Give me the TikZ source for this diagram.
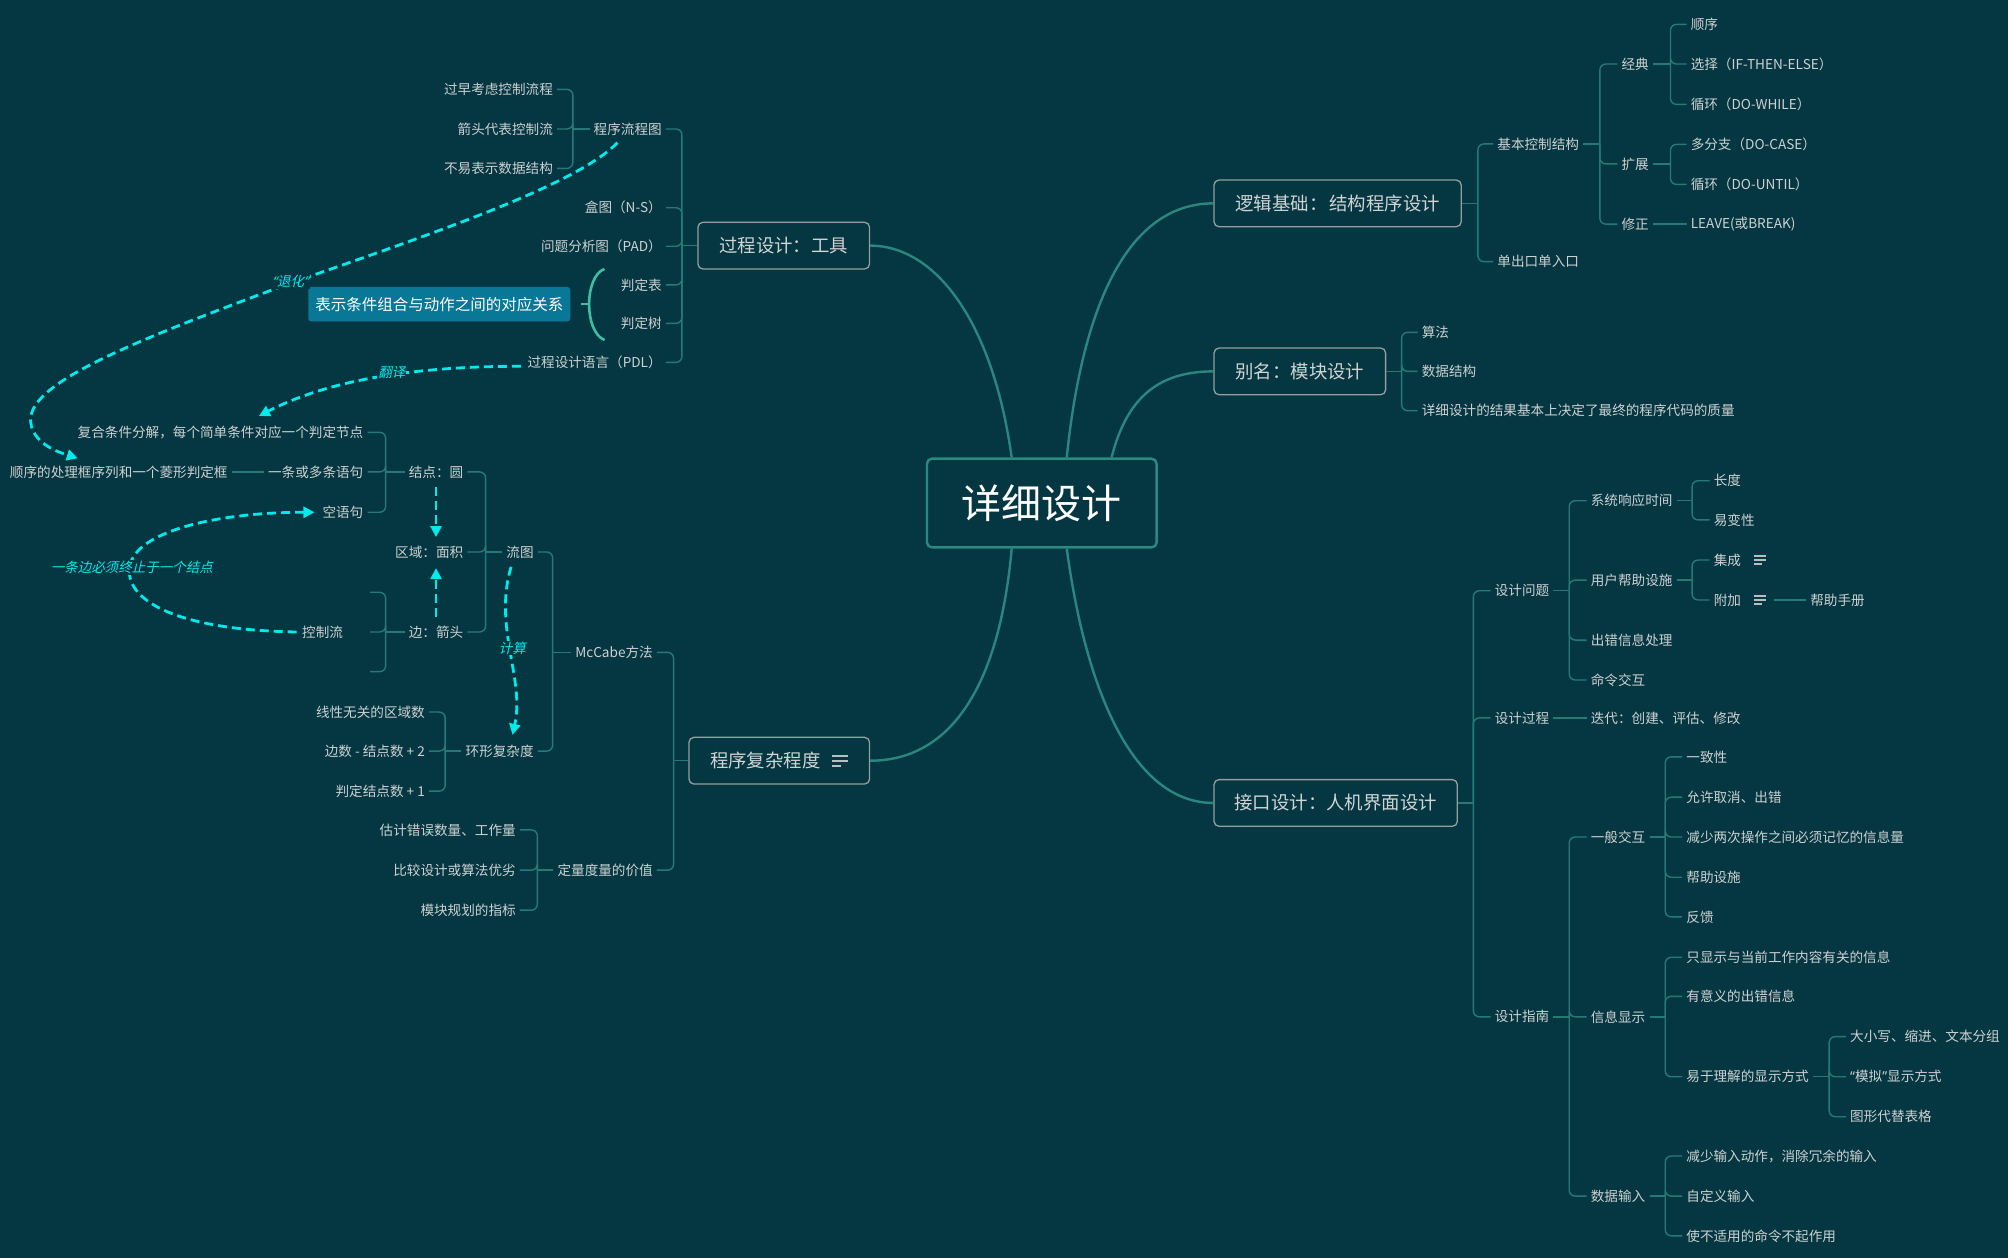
\documentclass[tikz,border=0pt]{standalone}
\usepackage{fontspec}
\setmainfont{Noto Sans CJK SC}
\newfontfamily\slfont[FakeSlant=0.22]{Noto Sans CJK SC}
\newfontfamily\latq{Noto Sans}
\newfontfamily\latqsl[FakeSlant=0.22]{Noto Sans}
\usetikzlibrary{arrows.meta,calc}
\definecolor{bgc}{RGB}{4,55,66}
\definecolor{brc}{RGB}{38,122,117}
\definecolor{mainc}{RGB}{42,134,127}
\definecolor{cnb}{RGB}{40,138,128}
\definecolor{boxb}{RGB}{150,158,158}
\definecolor{txtc}{RGB}{206,209,209}
\definecolor{boxt}{RGB}{210,212,212}
\definecolor{cyc}{RGB}{0,235,235}
\definecolor{hlf}{RGB}{8,120,150}
\definecolor{brac}{RGB}{62,190,162}
\definecolor{icc}{RGB}{185,190,190}
\newcommand\kidsR[3]{\draw[br] (#1.east) -- ++(#2,0) coordinate (J#1);
  \foreach \ch in {#3}{\draw[br] (J#1) |- (\ch.west);}}
\newcommand\kidsL[3]{\draw[br] (#1.west) -- ++(-#2,0) coordinate (J#1);
  \foreach \ch in {#3}{\draw[br] (J#1) |- (\ch.east);}}
\begin{document}
\begin{tikzpicture}[x=1.2806pt,y=-1.2806pt,
  lbl/.style={text=txtc,font=\fontsize{13.6}{16}\selectfont,inner xsep=4pt,inner ysep=2pt},
  L/.style={lbl,anchor=east},
  R/.style={lbl,anchor=west},
  box/.style={draw=boxb,line width=1.3pt,rounded corners=5pt,text=boxt,fill=bgc,
    font=\fontsize{18.4}{22}\selectfont,minimum height=46.7pt,inner xsep=0pt},
  cnode/.style={draw=cnb,line width=2.4pt,rounded corners=5pt,fill=bgc,minimum width=229.6pt,
    minimum height=88.7pt,text=white,font=\fontsize{40}{46}\selectfont},
  hl/.style={fill=hlf,rounded corners=3pt,text=white,font=\fontsize{15.5}{18}\selectfont,
    minimum width=262pt,minimum height=34.6pt,inner xsep=0pt},
  br/.style={draw=brc,line width=1.4pt,rounded corners=6pt},
  mainln/.style={draw=mainc,line width=2.4pt},
  rel/.style={draw=cyc,line width=2.8pt,dash pattern=on 9pt off 5pt,-{Triangle[length=11pt,width=11pt]}},
  rlbl/.style={text=cyc,font=\slfont\fontsize{13.5}{16}\selectfont,fill=bgc,inner sep=1pt},
  iconln/.style={draw=icc,line width=1.8pt},
  bracel/.style={draw=brac,line width=2.6pt},
]
\fill[bgc] (0,0) rectangle (1568,982);
\useasboundingbox (0,0) rectangle (1568,982);

% ---------- main nodes ----------
\node[cnode] (CN) at (813.5,392.8) {详细设计};
\node[box,minimum width=171.6pt] (PT) at (612,191.8) {过程设计：工具};
\node[box,minimum width=180.6pt] (PC) at (608.5,594) {程序复杂程度\hspace*{28pt}};
\node[box,minimum width=247.2pt] (LJ) at (1044.5,158.8) {逻辑基础：\hspace{2pt}结构程序设计};
\node[box,minimum width=171.6pt] (BM) at (1015,290) {别名：模块设计};
\node[box,minimum width=243.3pt] (JK) at (1043,627) {接口设计：人机界面设计};

% ---------- left top ----------
\node[L] (lA) at (520,100.7) {程序流程图};
\node[L] (lB) at (520,162.2) {盒图（N-S）};
\node[L] (lC) at (520,192.3) {问题分析图（PAD）};
\node[L] (lD) at (520,222.5) {判定表};
\node[L] (lE) at (520,252.5) {判定树};
\node[L] (lF) at (520,283) {过程设计语言（PDL）};
\node[L] (gA) at (435,69.8) {过早考虑控制流程};
\node[L] (gB) at (435,100.7) {箭头代表控制流};
\node[L] (gC) at (435,131.5) {不易表示数据结构};
\node[hl] (HL) at (343,237.5) {表示条件组合与动作之间的对应关系};

% ---------- left bottom ----------
\node[L] (mA) at (513,509.4) {McCabe方法};
\node[L] (mB) at (513,679.5) {定量度量的价值};
\node[L] (nA) at (420,431) {流图};
\node[L] (nB) at (420,586.5) {环形复杂度};
\node[L] (oA) at (365,368.5) {结点：圆};
\node[L] (oB) at (365,431) {区域：面积};
\node[L] (oC) at (365,493.5) {边：箭头};
\node[L] (pA) at (287,337.6) {复合条件分解，每个简单条件对应一个判定节点};
\node[L] (pB) at (287,368.5) {一条或多条语句};
\node[L] (pC) at (287,400) {空语句};
\node[L] (pD) at (181,368.5) {顺序的处理框序列和一个菱形判定框};
\node[L] (pE) at (289,493.5) {控制流\hspace*{22.9pt}};
\coordinate (eU) at (289,462.5);
\coordinate (eD) at (289,524.5);
\node[L] (qA) at (335,556) {线性无关的区域数};
\node[L] (qB) at (335,586.5) {边数 - 结点数 + 2};
\node[L] (qC) at (335,617.8) {判定结点数 + 1};
\node[L] (rA) at (406,648) {估计错误数量、工作量};
\node[L] (rB) at (406,679.5) {比较设计或算法优劣};
\node[L] (rC) at (406,710.7) {模块规划的指标};

% ---------- right: logic ----------
\node[R] (sA) at (1166,112.4) {基本控制结构};
\node[R] (sB) at (1166,204.3) {单出口单入口};
\node[R] (tA) at (1263,50) {经典};
\node[R] (tB) at (1263,128) {扩展};
\node[R] (tC) at (1263,175) {修正};
\node[R] (uA) at (1317,19) {顺序};
\node[R] (uB) at (1317,50) {选择（IF-THEN-ELSE）};
\node[R] (uC) at (1317,81.5) {循环（DO-WHILE）};
\node[R] (uD) at (1317,112.7) {多分支（DO-CASE）};
\node[R] (uE) at (1317,144) {循环（DO-UNTIL）};
\node[R] (uF) at (1317,175) {LEAVE(或BREAK)};

% ---------- right: alias ----------
\node[R] (vA) at (1107,259.5) {算法};
\node[R] (vB) at (1107,290) {数据结构};
\node[R] (vC) at (1107,320.7) {详细设计的结果基本上决定了最终的程序代码的质量};

% ---------- right: interface ----------
\node[R] (wA) at (1164,461.3) {设计问题};
\node[R] (wB) at (1164,560.6) {设计过程};
\node[R] (wC) at (1164,794) {设计指南};
\node[R] (xA) at (1239,391) {系统响应时间};
\node[R] (xB) at (1239,453) {用户帮助设施};
\node[R] (xC) at (1239,499.8) {出错信息处理};
\node[R] (xD) at (1239,531) {命令交互};
\node[R] (xE) at (1239,560.6) {迭代：创建、评估、修改};
\node[R] (xF) at (1239,653.6) {一般交互};
\node[R] (xG) at (1239,794) {信息显示};
\node[R] (xH) at (1239,934) {数据输入};
\node[R] (yA) at (1335,375.4) {长度};
\node[R] (yB) at (1335,406) {易变性};
\node[R] (yC) at (1335,437.3) {集成\hspace*{29pt}};
\node[R] (yD) at (1335,468.5) {附加\hspace*{29pt}};
\node[R] (yE) at (1410.4,468.5) {帮助手册};
\node[R] (zA) at (1313.6,591) {一致性};
\node[R] (zB) at (1313.6,622.5) {允许取消、出错};
\node[R] (zC) at (1313.6,653.6) {减少两次操作之间必须记忆的信息量};
\node[R] (zD) at (1313.6,685) {帮助设施};
\node[R] (zE) at (1313.6,716) {反馈};
\node[R] (zF) at (1313.6,747.5) {只显示与当前工作内容有关的信息};
\node[R] (zG) at (1313.6,778) {有意义的出错信息};
\node[R] (zH) at (1313.6,840.8) {易于理解的显示方式};
\node[R] (zI) at (1313.6,902.7) {减少输入动作，消除冗余的输入};
\node[R] (zJ) at (1313.6,934) {自定义输入};
\node[R] (zK) at (1313.6,965) {使不适用的命令不起作用};
\node[R] (aA) at (1441.5,809.5) {大小写、缩进、文本分组};
\node[R] (aB) at (1441.5,840.8) {{\latq “}模拟{\latq ”}显示方式};
\node[R] (aC) at (1441.5,872) {图形代替表格};

% ---------- main curves ----------
\draw[mainln] ($(CN.north)+(-23.5,0)$) .. controls (775,250) and (730,191.8) .. (PT.east);
\draw[mainln] ($(CN.north)+(19.5,0)$) .. controls (845,240) and (880,158.8) .. (LJ.west);
\draw[mainln] ($(CN.north)+(54.5,0)$) .. controls (880,310) and (905,290) .. (BM.west);
\draw[mainln] ($(CN.south)+(-23.5,0)$) .. controls (780,540) and (740,594) .. (PC.east);
\draw[mainln] ($(CN.south)+(19.5,0)$) .. controls (848,540) and (885,627) .. (JK.west);

% ---------- branches ----------
\kidsL{PT}{12}{lA,lB,lC,lD,lE,lF}
\kidsL{lA}{13}{gA,gB,gC}
\kidsL{PC}{11.5}{mA,mB}
\kidsL{mA}{14.4}{nA,nB}
\kidsL{mB}{12.5}{rA,rB,rC}
\kidsL{nA}{13}{oA,oB,oC}
\kidsL{nB}{12.7}{qA,qB,qC}
\kidsL{oA}{14.8}{pA,pB,pC}
\kidsL{oC}{14.8}{pE}
\draw[br] (JoC) |- (eU);
\draw[br] (JoC) |- (eD);
\draw[br] (pB.west) -- (pD.east);

\kidsR{LJ}{12.5}{sA,sB}
\kidsR{sA}{13}{tA,tB,tC}
\kidsR{tA}{13.6}{uA,uB,uC}
\kidsR{tB}{13.6}{uD,uE}
\draw[br] (tC.east) -- (uF.west);
\kidsR{BM}{12}{vA,vB,vC}
\kidsR{JK}{12}{wA,wB,wC}
\kidsR{wA}{12.3}{xA,xB,xC,xD}
\draw[br] (wB.east) -- (xE.west);
\kidsR{wC}{12.3}{xF,xG,xH}
\kidsR{xA}{12}{yA,yB}
\kidsR{xB}{12}{yC,yD}
\draw[br] (yD.east) -- (yE.west);
\kidsR{xF}{12.3}{zA,zB,zC,zD,zE}
\kidsR{xG}{12.3}{zF,zG,zH}
\kidsR{xH}{12.3}{zI,zJ,zK}
\kidsR{zH}{12.6}{aA,aB,aC}

% ---------- note icons ----------
\foreach \dy/\len in {-3.9/12.3,0/12.3,3.9/7.1}
  \draw[iconln] ($(PC.east)+(-29.6,\dy)$) -- ++(\len,0);
\foreach \nd in {yC,yD}
  \foreach \dy/\len in {-3.1/9.6,0/9.6,3.1/6}
    \draw[iconln] ($(\nd.east)+(-15.8,\dy)$) -- ++(\len,0);

% ---------- summary brace ----------
\draw[bracel] (472,210) .. controls (456,216) and (456,259) .. (472,265.5);
\draw[bracel] ($(HL.east)+(8,0)$) -- (459.5,237.5);

% ---------- relationships ----------
\draw[rel] ($(lA.south)+(-8,4)$) .. controls (450,145) and (330,185) .. (227,221)
  .. controls (100,268) and (20,300) .. (24,330)
  .. controls (26,345) and (42,352) .. ($(pD.north)+(-32,-4)$);
\node[rlbl] (R1) at (227,220) {{\latqsl “}退化{\latqsl ”}};

\draw[rel] ($(lF.west)+(-2,3)$) .. controls (330,286) and (260,295) .. ($(pA.north)+(30,-6)$);
\node[rlbl] (R2) at (306,291) {翻译};

\draw[rel] ($(nA.south)+(-7,5)$) .. controls (385,490) and (410,530) .. ($(nB.north)+(10,-6)$);
\node[rlbl] (R3) at (400,506) {计算};

\draw[rel] ($(pE.west)+(-1,0)$) .. controls (140,492) and (100,470) .. (101,445)
  .. controls (102,415) and (170,400) .. ($(pC.west)+(-3,0)$);
\node[rlbl] (R4) at (103,443) {一条边必须终止于一个结点};

\draw[rel] ($(oA.south)+(0,5)$) -- ($(oA.south |- oB.north)+(0,-5)$);
\draw[rel] ($(oC.north)+(0,-5)$) -- ($(oC.north |- oB.south)+(0,6)$);
\end{tikzpicture}
\end{document}
